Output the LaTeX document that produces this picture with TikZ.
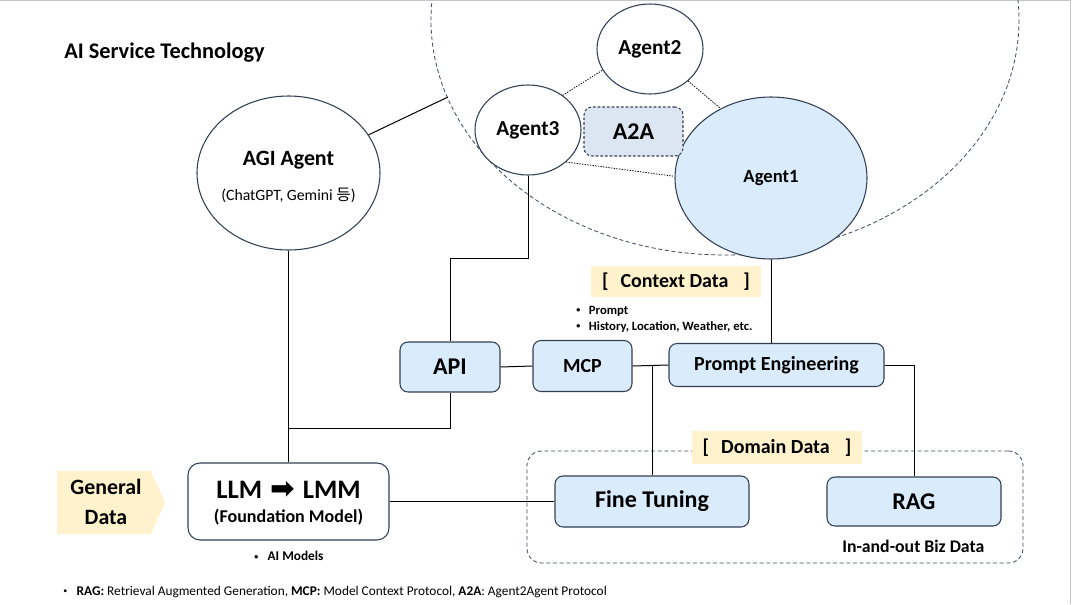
\documentclass[tikz,border=0pt]{standalone}
\usepackage{fontspec}
\setmainfont{Carlito}
\newfontfamily\kr{Noto Sans CJK KR}
\newfontfamily\dv{DejaVu Sans}
\usetikzlibrary{shapes.geometric}
\definecolor{edgec}{RGB}{50,63,82}
\definecolor{boxfill}{RGB}{218,236,252}
\definecolor{a2afill}{RGB}{220,230,242}
\definecolor{yel}{RGB}{255,242,204}
\definecolor{ringc}{RGB}{60,72,92}
\newcommand\fs[1]{\fontsize{#1pt}{\dimexpr #1pt*6/5\relax}\selectfont}
\newcommand\bul[1]{\makebox[#1][l]{\raisebox{0.12em}{\fontsize{6pt}{6pt}\selectfont•}}}
\begin{document}
\begin{tikzpicture}[x=0.75pt,y=-0.75pt,
  agentnode/.style={ellipse, draw=edgec, line width=0.8pt, fill=white, inner sep=0pt, font=\bfseries},
  bluebox/.style={rectangle, rounded corners=6pt, draw=edgec, fill=boxfill, line width=0.8pt, inner sep=0pt, font=\bfseries},
  tagbox/.style={rectangle, fill=yel, inner sep=0pt, font=\bfseries\fs{15}},
  conn/.style={line width=0.75pt, black},
  dotconn/.style={line width=0.6pt, black, dash pattern=on 1pt off 1pt},
  ring/.style={line width=0.6pt, ringc, dash pattern=on 3pt off 2pt},
  note/.style={inner sep=0pt, anchor=west}]
\useasboundingbox (0,0) rectangle (1072,604);
\fill[white] (0,0) rectangle (1072,604);
\draw[gray!45, line width=1pt] (0,0.7) -- (1070.5,0.7) -- (1070.5,604);

% big dashed ring
\begin{scope}
\clip (0,0) rectangle (1072,604);
\draw[ring] (725,20) ellipse [x radius=294, y radius=235];
\end{scope}

% title
\node[note, font=\bfseries\fs{16.75}] (title) at (64,53) {AI Service Technology};

% agents
\node[agentnode, minimum width=137.25pt, minimum height=115.5pt] (agi) at (288.5,173) {};
\node[font=\bfseries\fs{16.4}] (agit) at (288.5,160) {AGI Agent};
\node[font=\fs{11.8}] (agis) at (288.5,195) {(ChatGPT, Gemini {\kr 등})};
\node[agentnode, minimum width=79.5pt, minimum height=67.5pt, font=\bfseries\fs{16}] (agent2) at (650,49) {Agent2};
\node[agentnode, minimum width=79.5pt, minimum height=67.5pt, font=\bfseries\fs{16}] (agent3) at (528,130) {Agent3};
\node[agentnode, fill=boxfill, minimum width=144pt, minimum height=121.5pt, font=\bfseries\fs{14}] (agent1) at (771,178) {Agent1};
\node[bluebox, fill=a2afill, dash pattern=on 2pt off 1.5pt, minimum width=74.25pt, minimum height=36.75pt, font=\bfseries\fs{18}] (a2a) at (633.5,131.5) {A2A};

\coordinate (ringpt) at (448,97);
\draw[conn] (agi) -- (ringpt);
\draw[dotconn] (agent3.45) -- (agent2.204);
\draw[dotconn] (agent2.320) -- (agent1.126);
\draw[dotconn] (agent3.320) -- (agent1.179);

% boxes
\node[bluebox, minimum width=75pt, minimum height=37.5pt, font=\bfseries\fs{18}] (api) at (450,367) {API};
\node[bluebox, minimum width=74.25pt, minimum height=38.25pt, font=\bfseries\fs{15}] (mcp) at (582.5,366) {MCP};
\node[bluebox, minimum width=161.25pt, minimum height=32.25pt, font=\bfseries\fs{15}] (pe) at (776.5,365) {Prompt Engineering};
\node[draw=ringc, line width=0.6pt, dash pattern=on 3pt off 2pt, rounded corners=11pt, minimum width=372pt, minimum height=84pt] (domain) at (775,507) {};
\node[bluebox, minimum width=145.5pt, minimum height=38.25pt, font=\bfseries\fs{18}] (ft) at (652,501.5) {Fine Tuning};
\node[bluebox, minimum width=130.5pt, minimum height=36.75pt, font=\bfseries\fs{18}] (rag) at (914,501.5) {RAG};
\node[rectangle, rounded corners=9pt, draw=edgec, fill=white, line width=0.8pt, minimum width=150.75pt, minimum height=57.75pt] (llm) at (288.5,501.5) {};
\node[font=\bfseries\fs{20}] (llmt) at (288.5,490) {LLM\hspace{0.3em}{\dv\fontsize{22pt}{22pt}\selectfont\raisebox{-0.02em}{➡}}\hspace{0.3em}LMM};
\node[font=\bfseries\fs{13.5}] (llms) at (288.5,517) {(Foundation Model)};

% tags
\node[tagbox, minimum width=127.5pt, minimum height=23.25pt] (ctx) at (676,281.5) {[\hspace{0.6em}Context Data\hspace{0.75em}]};
\node[tagbox, minimum width=127.5pt, minimum height=24.75pt] (dom) at (777,447.5) {[\hspace{0.6em}Domain Data\hspace{0.75em}]};
\fill[yel] (57,471) -- (151,471) -- (165,502.5) -- (151,534) -- (57,534) -- cycle;
\node[align=center, font=\bfseries\fs{16.4}, inner sep=0pt] (gd) at (106,502) {General\\[3pt]Data};

% notes
\node[note, font=\bfseries\fs{9.5}] (b1) at (576,311) {\bul{9.5pt}Prompt};
\node[note, font=\bfseries\fs{9.5}] (b2) at (576,327) {\bul{9.5pt}History, Location, Weather, etc.};
\node[note, font=\bfseries\fs{10}] (aim) at (254,556) {\bul{10pt}AI Models};
\node[note, font=\bfseries\fs{13.3}] (biz) at (842,546) {In-and-out Biz Data};
\node[note, font=\fs{10}] (foot) at (63,592) {\bul{10pt}\textbf{RAG:} Retrieval Augmented Generation, \textbf{MCP:} Model Context Protocol, \textbf{A2A}: Agent2Agent Protocol};

% connectors
\draw[conn] (agi.south) -- (llm.north);
\coordinate (j1) at (llm.north |- 0,428);
\draw[conn] (api.south) |- (j1);
\draw[conn] (agent3.south) -- (agent3.south |- 0,258) -| (api.north);
\draw[conn] (api.east) -- (mcp.west);
\draw[conn] (mcp.east) -- (pe.west);
\draw[conn] (ft.north) -- (ft.north |- pe.west);
\draw[conn] (pe.east) -| (rag.north);
\draw[conn] (agent1.south) -- (agent1.south |- pe.north);
\draw[conn] (llm.east) -- (ft.west);
\end{tikzpicture}
\end{document}
